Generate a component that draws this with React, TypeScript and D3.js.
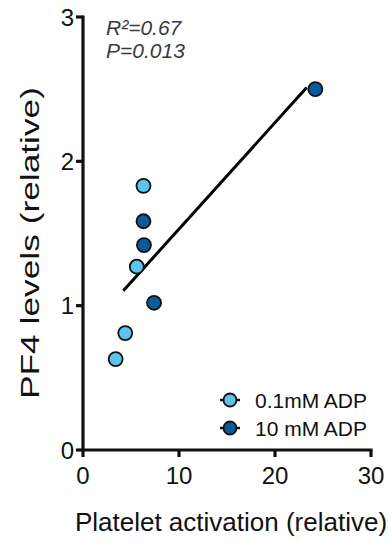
import React, { useEffect, useRef } from 'react';
import * as d3 from 'd3';

type Pt = { x: number; y: number };

// 0.1 mM ADP (light) and 10 mM ADP (dark) points
const lowAdp: Pt[] = [
	{ x: 6.3, y: 1.83 },
	{ x: 5.6, y: 1.27 },
	{ x: 4.4, y: 0.81 },
	{ x: 3.4, y: 0.63 },
];
const highAdp: Pt[] = [
	{ x: 6.3, y: 1.585 },
	{ x: 6.35, y: 1.42 },
	{ x: 7.4, y: 1.02 },
	{ x: 24.2, y: 2.5 },
];
const fitRange = [4.2, 23.3];
const xTicks = [0, 10, 20, 30];
const yTicks = [0, 1, 2, 3];
const seriesNames = ['0.1mM ADP', '10 mM ADP'];
const seriesColors = ['#5ec3ec', '#0b5b9b'];
const stats = ['R²=0.67', 'P=0.013'];

const W = 389;
const H = 541;
const font = 'Liberation Sans, Arial, Helvetica, sans-serif';

function Scatter(): JSX.Element {
	const ref = useRef<SVGSVGElement | null>(null);
	useEffect(() => {
		if (!ref.current) return;
		const svg = d3.select(ref.current);
		svg.selectAll('*').remove();

		const x = d3.scaleLinear().domain([0, 30]).range([83, 371]);
		const y = d3.scaleLinear().domain([0, 3]).range([450, 17]);

		// axes
		const axisG = svg.append('g').attr('stroke', '#111').attr('stroke-width', 3.2).attr('fill', 'none');
		axisG.append('line').attr('x1', x(0)).attr('x2', x(0)).attr('y1', y(3) - 1.5).attr('y2', y(0));
		axisG.append('line').attr('x1', x(0)).attr('x2', x(30) + 1.5).attr('y1', y(0)).attr('y2', y(0));
		yTicks.forEach((t) => {
			axisG.append('line').attr('x1', x(0) - 7).attr('x2', x(0)).attr('y1', y(t)).attr('y2', y(t));
			svg.append('text').attr('x', x(0) - 9).attr('y', y(t) + 8.5)
				.attr('text-anchor', 'end').attr('font-size', 24).attr('font-family', font).attr('fill', '#111')
				.text(t);
		});
		xTicks.forEach((t) => {
			axisG.append('line').attr('x1', x(t)).attr('x2', x(t)).attr('y1', y(0)).attr('y2', y(0) + 7);
			svg.append('text').attr('x', x(t)).attr('y', y(0) + 34)
				.attr('text-anchor', 'middle').attr('font-size', 24).attr('font-family', font).attr('fill', '#111')
				.text(t);
		});

		// axis titles
		svg.append('text').attr('x', 231).attr('y', 531)
			.attr('text-anchor', 'middle').attr('font-size', 26).attr('font-family', font).attr('fill', '#111')
			.text('Platelet activation (relative)');
		svg.append('text').attr('transform', `translate(39,243) rotate(-90)`)
			.attr('text-anchor', 'middle').attr('font-size', 25).attr('font-family', font).attr('fill', '#111')
			.attr('textLength', 312).attr('lengthAdjust', 'spacingAndGlyphs')
			.text('PF4 levels (relative)');

		// stats
		stats.forEach((s, i) => {
			svg.append('text').attr('x', 106).attr('y', 35 + i * 23)
				.attr('font-size', 21).attr('font-style', 'italic').attr('font-family', font).attr('fill', '#3a3a3a')
				.text(s);
		});

		// regression line over all points
		const all = [...lowAdp, ...highAdp];
		const mx = d3.mean(all, (d) => d.x) as number;
		const my = d3.mean(all, (d) => d.y) as number;
		const sxy = d3.sum(all, (d) => (d.x - mx) * (d.y - my));
		const sxx = d3.sum(all, (d) => (d.x - mx) ** 2);
		const slope = sxy / sxx;
		const icpt = my - slope * mx;
		const line = d3.line<number>().x((v) => x(v)).y((v) => y(icpt + slope * v));
		svg.append('path').attr('d', line(fitRange) as string)
			.attr('stroke', '#000').attr('stroke-width', 3).attr('fill', 'none');

		// points
		[lowAdp, highAdp].forEach((series, i) => {
			svg.append('g').selectAll('circle').data(series).join('circle')
				.attr('cx', (d) => x(d.x)).attr('cy', (d) => y(d.y)).attr('r', 7)
				.attr('fill', seriesColors[i]).attr('stroke', '#111').attr('stroke-width', 1.8);
		});

		// legend
		seriesNames.forEach((name, i) => {
			const g = svg.append('g').attr('transform', `translate(230,${400 + i * 28})`);
			g.append('line').attr('x1', -10).attr('x2', 10).attr('stroke', '#111').attr('stroke-width', 2.5);
			g.append('circle').attr('r', 6.5).attr('fill', seriesColors[i]).attr('stroke', '#111').attr('stroke-width', 1.8);
			g.append('text').attr('x', 25).attr('y', 7.5).attr('font-size', 21).attr('font-family', font).attr('fill', '#111')
				.text(name);
		});
	}, []);
	return <svg ref={ref} width={W} height={H} style={{ position: 'absolute', left: 0, top: 0, background: '#fff' }} />;
}

export default function App(): JSX.Element {
	return <Scatter />;
}
